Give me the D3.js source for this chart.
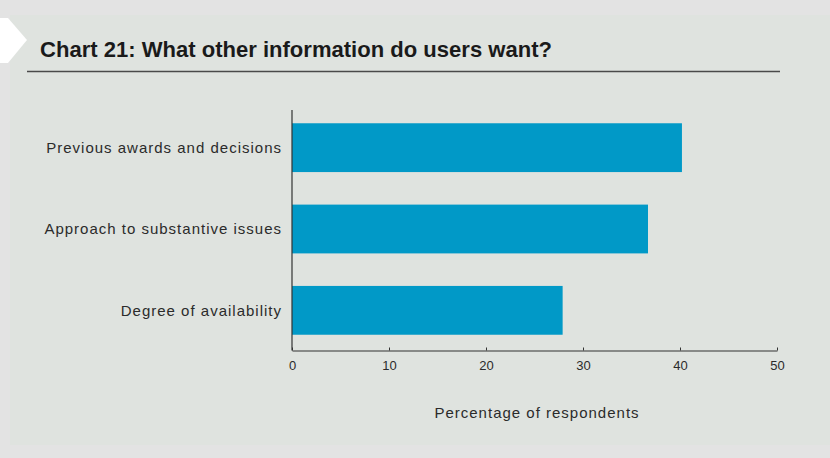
<!DOCTYPE html>
<html>
<head>
<meta charset="utf-8">
<script src="https://cdn.jsdelivr.net/npm/d3@7"></script>
<style>
  html, body { margin: 0; padding: 0; background: #e3e3e3; }
  svg { display: block; }
</style>
</head>
<body>
<svg id="chart" width="830" height="458"></svg>
<script>
// Survey answers: share of respondents wanting each kind of information
const categories = [
  "Previous awards and decisions",
  "Approach to substantive issues",
  "Degree of availability"
];
const values = [40.2, 36.7, 27.9];
const xTicks = [0, 10, 20, 30, 40, 50];
const title = "Chart 21: What other information do users want?";
const xAxisTitle = "Percentage of respondents";

const svg = d3.select("#chart");
const W = 830, H = 458;
const bodyFont = "Arial, 'Liberation Sans', sans-serif";

// Page backdrop and panel
svg.append("rect").attr("x", 0).attr("y", 0).attr("width", W).attr("height", H).attr("fill", "#e3e3e3");
svg.append("rect").attr("x", 10).attr("y", 15).attr("width", W - 10).attr("height", 430).attr("fill", "#dfe3df");
// White chevron tab on the left edge
svg.append("path").attr("d", "M0,18 L8,18 L27,40 L8,63 L0,63 Z").attr("fill", "#ffffff");

// Title and rule
svg.append("text")
  .attr("x", 40).attr("y", 57)
  .attr("font-family", bodyFont)
  .attr("font-weight", "bold")
  .attr("font-size", 21.5)
  .attr("textLength", 512)
  .attr("lengthAdjust", "spacingAndGlyphs")
  .attr("fill", "#1a1a1a")
  .text(title);
svg.append("line")
  .attr("x1", 27).attr("x2", 780).attr("y1", 71.5).attr("y2", 71.5)
  .attr("stroke", "#4a4a4a").attr("stroke-width", 1.5);

// Scales
const x = d3.scaleLinear().domain([0, 50]).range([292, 777]);
const y = d3.scaleBand().domain(categories).range([107, 351]).paddingInner(0.4).paddingOuter(0.2);

// Bars
svg.append("g").selectAll("rect")
  .data(categories.map((c, i) => ({ c, v: values[i] })))
  .join("rect")
  .attr("x", x(0))
  .attr("y", d => y(d.c))
  .attr("width", d => x(d.v) - x(0))
  .attr("height", y.bandwidth())
  .attr("fill", "#0199c7");

// Category labels
svg.append("g").selectAll("text")
  .data(categories)
  .join("text")
  .attr("x", 282)
  .attr("y", d => y(d) + y.bandwidth() / 2)
  .attr("dy", "0.35em")
  .attr("text-anchor", "end")
  .attr("font-family", bodyFont)
  .attr("font-size", 15)
  .attr("letter-spacing", 1)
  .attr("fill", "#2b2b2b")
  .text(d => d);

// Vertical axis line
svg.append("line")
  .attr("x1", x(0)).attr("x2", x(0)).attr("y1", 110).attr("y2", 350.5)
  .attr("stroke", "#333").attr("stroke-width", 1.2);

// Horizontal axis with short upward ticks
const xAxis = d3.axisBottom(x).tickValues(xTicks).tickSize(-3).tickSizeOuter(0).tickPadding(10);
const gx = svg.append("g").attr("transform", "translate(0,350.5)").call(xAxis);
gx.select(".domain").attr("stroke", "#333").attr("stroke-width", 1.2);
gx.selectAll(".tick line").attr("stroke", "#333");
gx.selectAll(".tick text")
  .attr("font-family", bodyFont)
  .attr("font-size", 13)
  .attr("fill", "#2b2b2b");

// Axis title
svg.append("text")
  .attr("x", 537).attr("y", 418)
  .attr("text-anchor", "middle")
  .attr("font-family", bodyFont)
  .attr("font-size", 15)
  .attr("letter-spacing", 1)
  .attr("fill", "#2b2b2b")
  .text(xAxisTitle);
</script>
</body>
</html>
